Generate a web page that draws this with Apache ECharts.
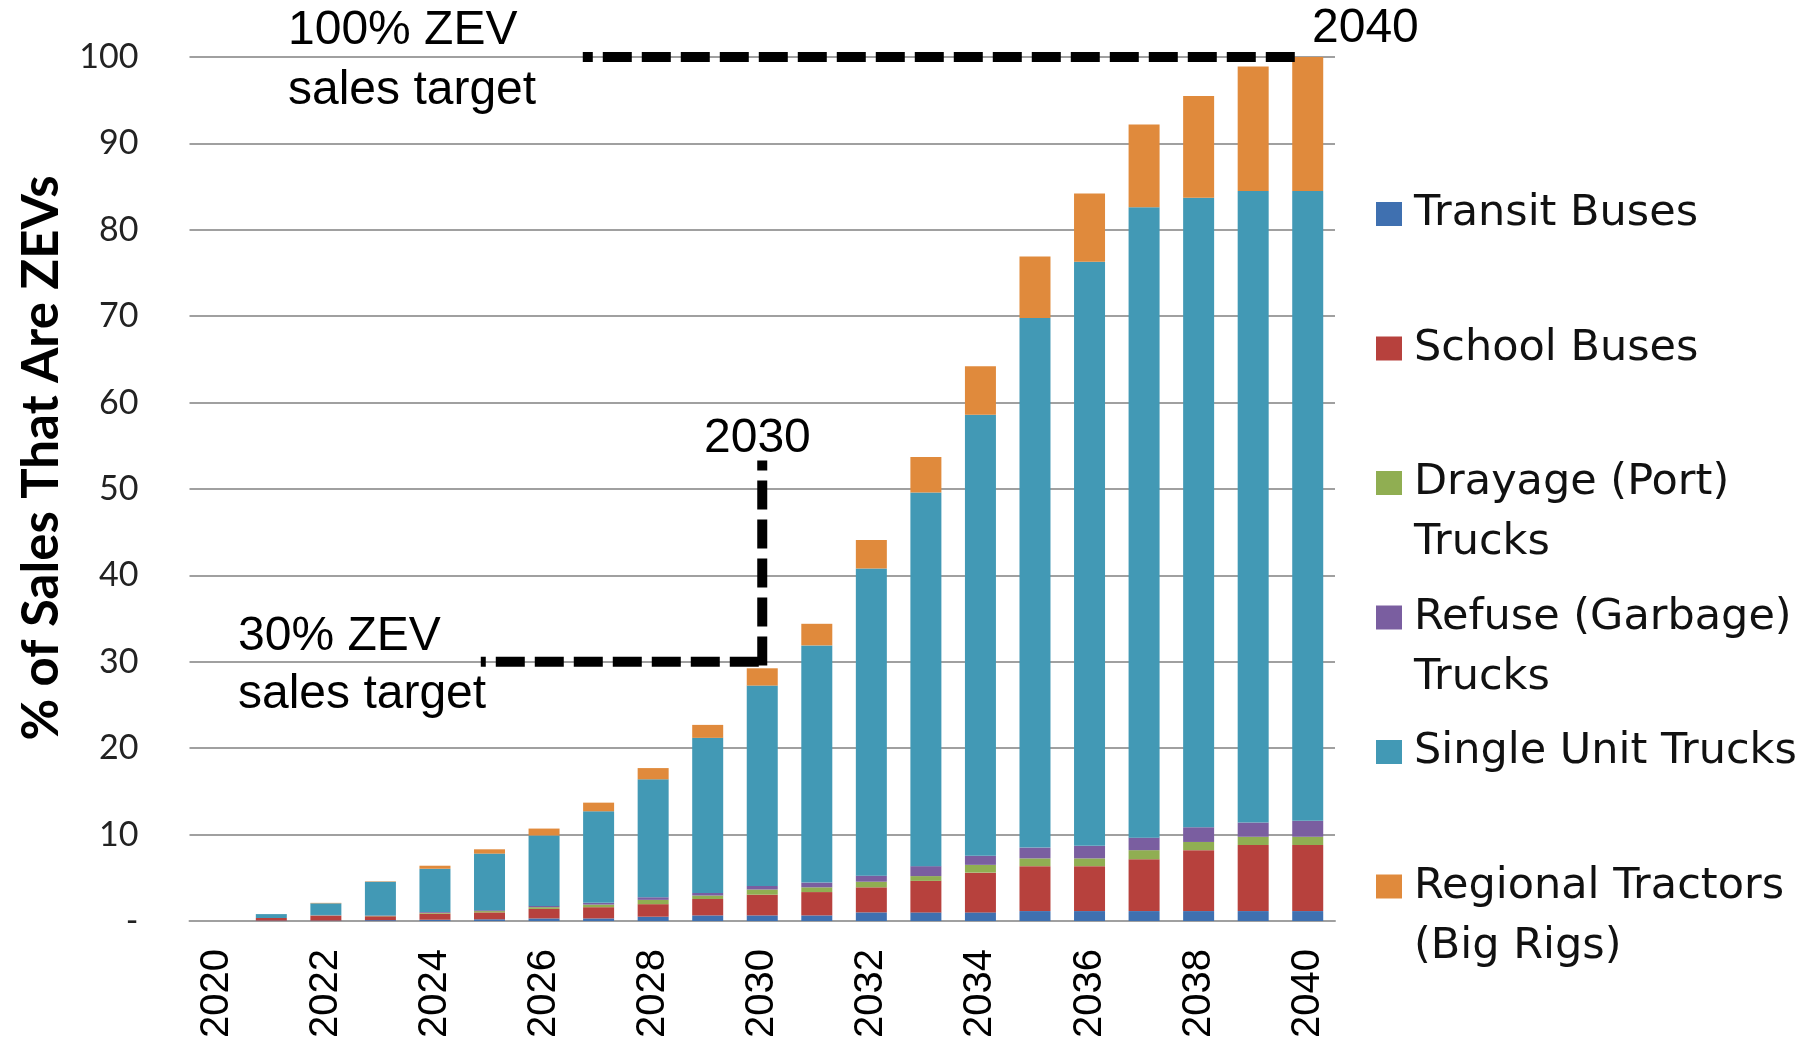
<!DOCTYPE html>
<html>
<head>
<meta charset="utf-8">
<script src="https://cdn.jsdelivr.net/npm/echarts@6/dist/echarts.min.js"></script>
<style>
  html, body { margin: 0; padding: 0; background: #ffffff; }
  #chart { width: 1818px; height: 1041px; }
</style>
</head>
<body>
<div id="chart"></div>
<script>
// ---- Data ----
const years = ['2020','2021','2022','2023','2024','2025','2026','2027','2028','2029','2030',
               '2031','2032','2033','2034','2035','2036','2037','2038','2039','2040'];
const transitBuses     = [0, 0.05, 0.05, 0.1, 0.15, 0.2, 0.3, 0.3, 0.5, 0.65, 0.65, 0.65, 1.0, 1.0, 1.0, 1.15, 1.15, 1.15, 1.15, 1.15, 1.15];
const schoolBuses      = [0, 0.3, 0.55, 0.45, 0.7, 0.8, 1.1, 1.3, 1.45, 1.9, 2.4, 2.7, 2.9, 3.65, 4.6, 5.2, 5.2, 6.0, 7.05, 7.65, 7.65];
const drayageTrucks    = [0, 0, 0.05, 0.05, 0.1, 0.15, 0.2, 0.3, 0.5, 0.4, 0.6, 0.55, 0.65, 0.55, 0.9, 0.9, 0.9, 1.05, 0.95, 0.95, 0.95];
const refuseTrucks     = [0, 0, 0.05, 0.05, 0.1, 0.1, 0.15, 0.2, 0.3, 0.3, 0.4, 0.55, 0.7, 1.15, 1.05, 1.25, 1.45, 1.45, 1.7, 1.65, 1.85];
const singleUnitTrucks = [0, 0.45, 1.35, 3.9, 5.0, 6.55, 8.15, 10.6, 13.65, 17.95, 23.2, 27.45, 35.55, 43.25, 51.05, 61.3, 67.6, 72.95, 72.85, 73.1, 72.9];
const regionalTractors = [0, 0, 0.05, 0.05, 0.35, 0.5, 0.8, 1.0, 1.3, 1.5, 2.0, 2.5, 3.3, 4.1, 5.6, 7.1, 7.9, 9.6, 11.8, 14.4, 15.5];

const seriesNames = ['Transit Buses', 'School Buses', 'Drayage (Port) Trucks',
                     'Refuse (Garbage) Trucks', 'Single Unit Trucks', 'Regional Tractors (Big Rigs)'];
const legendFirstLines  = ['Transit Buses', 'School Buses', 'Drayage (Port)', 'Refuse (Garbage)', 'Single Unit Trucks', 'Regional Tractors'];
const legendSecondLines = ['', '', 'Trucks', 'Trucks', '', '(Big Rigs)'];

const yTicks = { min: 0, max: 100, interval: 10 };

// Target annotation lines, in (category index, % value) coordinates
const target100Line  = [[6.71, 100], [19.9, 100]];
const target30HLine  = [[4.84, 30], [10.08, 30]];
const target30VLine  = [[10, 53.3], [10, 29.4]];

const colors = ['#3f70b0', '#b7413d', '#90ae52', '#7a5ea0', '#4299b5', '#e08a3c'];
const seriesValues = [transitBuses, schoolBuses, drayageTrucks, refuseTrucks, singleUnitTrucks, regionalTractors];

// ---- Chart ----
const chart = echarts.init(document.getElementById('chart'), null, { renderer: 'canvas' });

const gridLeft = 189.5, gridRight = 483, gridTop = 57, gridBottom = 117;

const barSeries = seriesNames.map((name, i) => ({
  name: name,
  type: 'bar',
  stack: 'zev',
  barWidth: 31,
  itemStyle: { color: colors[i] },
  data: seriesValues[i],
  z: 2
}));

const lineDefs = [
  { data: target100Line, offset: 19 },
  { data: target30HLine, offset: 24 },
  { data: target30VLine, offset: 19 }
];
const lineSeries = lineDefs.map(d => ({
  type: 'line',
  xAxisIndex: 1,
  yAxisIndex: 0,
  data: d.data,
  symbol: 'none',
  clip: false,
  silent: true,
  lineStyle: { color: '#000', width: 10, type: [29, 10], dashOffset: d.offset, cap: 'butt' },
  z: 5
}));

const annFont = 'Liberation Sans, Arial, sans-serif';
const legFont = 'DejaVu Sans, sans-serif';

function annText(str, x, y) {
  return { type: 'text', x: x, y: y, style: { text: str, fill: '#000', font: '48px ' + annFont, textAlign: 'left', textVerticalAlign: 'middle' }, z: 10 };
}

const graphics = [
  annText('100% ZEV', 288, 31),
  annText('sales target', 288, 91),
  annText('2040', 1312, 29),
  annText('2030', 704, 439),
  annText('30% ZEV', 238, 637),
  annText('sales target', 238, 695),
  {
    type: 'text', x: 42, y: 458, rotation: Math.PI / 2,
    style: { text: '% of Sales That Are ZEVs', fill: '#000', font: 'bold 51px Lato, sans-serif', textAlign: 'center', textVerticalAlign: 'middle' }
  }
];
const secondLineY = [0, 0, 543, 678, 0, 947];
legendSecondLines.forEach((t, i) => {
  if (t) graphics.push({ type: 'text', x: 1414, y: secondLineY[i], style: { text: t, fill: '#111', font: '43px ' + legFont, textAlign: 'left', textVerticalAlign: 'middle' } });
});

const option = {
  backgroundColor: '#ffffff',
  animation: false,
  grid: { left: gridLeft, right: gridRight, top: gridTop, bottom: gridBottom, containLabel: false },
  legend: {
    orient: 'vertical',
    left: 1371,
    top: 184,
    itemWidth: 26,
    itemHeight: 24,
    itemGap: 84.5,
    icon: 'rect',
    selectedMode: false,
    data: seriesNames,
    formatter: name => legendFirstLines[seriesNames.indexOf(name)],
    textStyle: { fontFamily: legFont, fontSize: 43, color: '#111', lineHeight: 50, padding: [0, 0, 0, 7] }
  },
  xAxis: [
    {
      type: 'category',
      data: years,
      axisLine: { show: true, lineStyle: { color: '#a0a0a0', width: 2 } },
      axisTick: { show: false },
      axisLabel: { interval: 1, rotate: 90, margin: 28, fontFamily: annFont, fontSize: 40, color: '#000' }
    },
    {
      type: 'value',
      min: -0.5,
      max: 20.5,
      show: false
    }
  ],
  yAxis: {
    type: 'value',
    min: yTicks.min,
    max: yTicks.max,
    interval: yTicks.interval,
    axisLine: { show: false },
    axisTick: { show: false },
    splitLine: { lineStyle: { color: '#a0a0a0', width: 2 } },
    axisLabel: {
      margin: 51,
      fontFamily: 'Lato, sans-serif',
      fontSize: 34,
      color: '#222',
      formatter: v => (v === 0 ? '-' : String(v))
    }
  },
  graphic: graphics,
  series: barSeries.concat(lineSeries)
};

chart.setOption(option);
</script>
</body>
</html>
